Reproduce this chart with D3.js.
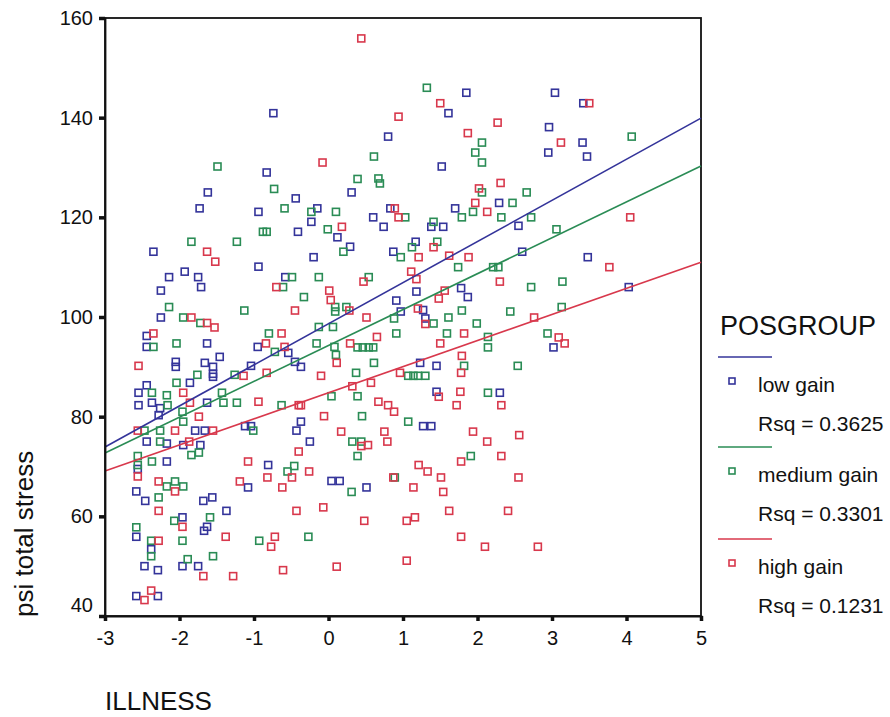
<!DOCTYPE html>
<html><head><meta charset="utf-8">
<script src="https://cdn.jsdelivr.net/npm/d3@7"></script>
<style>
body{margin:0;background:#fff;}
text{font-family:"Liberation Sans",Arial,sans-serif;fill:#111;}
</style></head>
<body><svg id="chart" width="890" height="717"></svg>
<script>
// ---- data ----
const groups = ["low gain", "medium gain", "high gain"];
const rsq = ["0.3625", "0.3301", "0.1231"];
const colors = ["#34349a", "#2a8c55", "#d8384c"];
const xTicks = [-3, -2, -1, 0, 1, 2, 3, 4, 5];
const yTicks = [40, 60, 80, 100, 120, 140, 160];
// fitted line values at x=-3 and x=5 for each group
const fitAtMin = [73.9, 72.7, 69.1];
const fitAtMax = [139.9, 130.3, 111.0];

const lowGain = [
[-0.74,140.9],[-0.83,129.0],[-1.62,125.0],[-0.44,123.8],[-1.73,121.8],[-0.94,121.1],
[1.85,145.0],[1.61,140.9],[0.80,136.2],[1.52,130.2],[0.31,125.0],[2.29,122.9],[-0.15,121.8],[-0.23,119.1],[0.60,120.0],[0.83,121.8],[0.74,118.1],[1.70,121.8],[1.38,118.1],[1.54,118.1],
[3.04,145.0],[3.42,142.9],[2.96,138.1],[3.41,135.0],[2.95,133.0],[3.47,132.2],[2.55,118.3],
[-0.41,117.1],[-2.35,113.1],[-0.94,110.1],[-1.93,109.1],[-2.14,108.0],[-1.75,108.0],[-1.71,106.0],[-2.25,105.3],[-0.58,108.0],[-2.25,99.9],[-2.44,96.2],[-2.44,94.0],[-1.63,94.7],[-0.95,94.0],[-0.54,92.8],[-0.45,91.0],[-0.37,90.0],[-2.05,91.0],[-2.05,90.0],[-1.66,90.8],[-1.55,90.0],[-1.46,92.0],[-1.55,88.6],[-1.55,88.0],[-1.86,86.8],[-1.04,90.2],[-2.55,84.8],[-2.44,86.3],[-2.55,82.3],[-2.37,82.8],[-2.26,81.7],[-2.28,80.3],[-1.63,82.8],[-1.79,77.2],[-1.66,77.2],[-1.12,78.1],[-1.04,78.1],[-0.43,77.2],[-0.37,79.0],
[0.12,116.0],[0.29,114.1],[-0.20,112.0],[0.87,113.1],[1.17,115.1],[1.18,105.1],[1.78,105.8],[1.87,104.0],[0.91,103.3],[0.97,101.1],[1.27,101.4],[1.30,99.7],[1.23,90.8],[1.45,90.2],[1.45,85.0],[2.30,84.8],[1.27,78.1],[1.38,78.1],
[2.60,113.1],[3.48,112.0],[4.03,106.0],[3.02,93.9],
[-2.44,75.0],[-2.17,74.6],[-1.95,74.3],[-1.72,74.3],[-2.17,71.0],[-2.56,69.5],[-2.58,65.0],[-2.46,63.1],[-1.68,63.1],[-1.56,63.8],[-1.37,61.1],[-1.96,59.8],[-1.63,57.9],[-1.67,57.1],[-2.58,55.9],[-2.38,53.4],[-2.47,50.0],[-2.29,49.2],[-1.96,50.0],[-1.75,50.0],[-2.58,44.0],[-2.29,44.0],[-0.81,70.3],[-1.08,65.8],
[-0.25,75.0],[0.04,67.1],[0.15,67.1],[0.51,65.8]
];
const mediumGain = [
[-1.49,130.2],[-0.73,125.7],[-0.59,121.8],
[1.32,146.0],[2.06,135.0],[1.97,133.0],[2.06,131.0],[0.61,132.2],[0.39,127.7],[0.67,127.8],[0.69,126.8],[2.06,125.0],[-0.23,121.1],[0.10,121.1],[1.03,120.0],[-0.01,117.6],[1.79,120.0],[1.94,121.1],[2.32,120.0],[1.41,119.1],
[4.07,136.2],[2.66,125.0],[2.47,122.9],[2.72,120.0],[3.06,117.6],
[-0.88,117.1],[-0.83,117.1],[-1.84,115.1],[-1.23,115.1],[-0.49,108.0],[-0.61,106.0],[-0.33,104.0],[-2.14,102.0],[-1.13,101.3],[-1.95,99.9],[-1.72,98.8],[-2.35,94.0],[-2.04,94.7],[-0.80,96.7],[-0.72,93.0],[-2.04,86.8],[-1.76,88.4],[-1.26,88.4],[-2.37,84.8],[-2.17,84.3],[-2.16,82.3],[-1.43,84.8],[-1.41,82.8],[-1.23,82.8],[-0.63,82.3],[-1.96,81.0],[-1.95,79.0],[-2.47,77.2],[-2.26,77.2],[-1.01,77.2],
[0.20,113.1],[-0.13,108.0],[0.09,102.0],[0.09,101.1],[0.24,102.0],[-0.13,98.0],[0.06,98.0],[0.54,108.0],[0.97,112.0],[1.12,114.0],[1.46,115.1],[1.74,110.0],[2.21,110.0],[2.28,110.0],[0.88,99.7],[1.41,98.7],[1.61,99.9],[1.79,101.3],[1.99,98.7],[0.91,96.7],[1.59,96.7],[2.14,96.0],[2.14,93.9],[-0.16,94.7],[0.08,94.0],[0.10,92.4],[0.39,93.9],[0.46,93.9],[0.54,93.9],[0.60,93.9],[1.82,90.2],[0.61,90.8],[0.37,88.8],[1.07,88.2],[1.14,88.2],[1.20,88.2],[1.30,88.2],[0.04,84.1],[0.39,84.1],[2.14,84.8],[0.45,80.1],[1.07,79.0],
[2.72,106.0],[3.14,107.1],[2.44,101.1],[3.13,102.0],[2.94,96.7],[2.54,90.2],
[-2.26,75.0],[-1.84,72.3],[-1.74,72.8],[-2.56,72.1],[-2.37,71.0],[-2.56,70.3],[-2.06,67.0],[-2.17,66.0],[-1.95,66.0],[-2.28,63.8],[-2.07,59.1],[-1.59,59.8],[-2.58,57.8],[-2.38,55.1],[-1.96,55.1],[-2.38,52.0],[-0.93,55.1],[-0.27,55.9],[-1.55,52.0],[-1.89,51.4],[-0.55,69.0],[-0.46,70.1],
[0.32,75.0],[0.44,75.0],[0.39,72.1],[0.31,64.9],[0.89,67.8],[1.91,72.1]
];
const highGain = [
[0.44,155.9],[1.50,142.9],[0.94,140.2],[2.27,139.0],[1.87,136.9],[-0.08,131.0],[2.02,125.8],[2.31,126.9],[1.97,122.9],[0.94,120.0],[0.89,121.8],[0.18,118.1],[2.13,121.1],
[3.50,142.9],[3.12,135.0],[4.05,120.0],
[-1.63,113.1],[-1.52,111.1],[-0.70,106.0],[-0.45,101.3],[-1.84,99.9],[-1.63,98.8],[-1.53,97.9],[-2.35,96.7],[-0.63,96.7],[-0.84,94.7],[-0.59,94.0],[-2.55,90.2],[-1.14,88.2],[-0.83,88.8],[-1.95,84.8],[-1.86,82.8],[-0.94,83.0],[-0.40,82.3],[-1.74,80.0],[-2.56,77.2],[-2.06,77.2],[-1.55,77.2],
[0.01,105.3],[0.03,103.4],[0.28,101.3],[0.51,99.9],[0.47,107.1],[1.21,112.0],[1.41,114.0],[1.62,112.3],[1.88,112.0],[2.30,107.1],[1.11,109.1],[1.18,107.6],[1.56,105.3],[1.48,103.7],[1.20,101.7],[1.30,98.6],[1.82,96.7],[0.65,96.0],[0.29,94.7],[1.50,94.7],[1.79,92.2],[0.11,90.8],[-0.10,88.2],[0.96,88.8],[1.78,88.8],[0.32,86.1],[0.57,86.8],[-0.37,82.3],[1.48,84.0],[1.77,85.0],[0.67,83.0],[0.80,82.3],[0.88,81.0],[1.72,82.3],[2.32,82.3],[-0.06,80.1],[0.17,77.0],[0.75,77.0],[1.94,77.0],
[3.77,110.0],[2.76,99.9],[3.09,95.9],[3.17,94.7],[2.56,76.3],
[-1.87,75.0],[-2.56,68.0],[-2.28,67.0],[-2.06,65.0],[-2.28,61.1],[-1.96,57.9],[-2.28,55.1],[-1.38,55.9],[-0.72,55.9],[-0.77,53.9],[-1.68,48.0],[-1.28,48.0],[-0.61,49.2],[-2.47,43.2],[-2.38,45.1],[-1.08,71.0],[-0.82,67.8],[-1.19,67.0],[-0.49,67.8],[-0.62,65.8],[-0.40,73.0],[-0.43,61.1],
[0.44,74.1],[0.53,74.3],[0.79,75.0],[-0.26,69.0],[-0.07,61.8],[0.48,59.1],[0.11,49.9],[0.87,67.8],[1.14,65.8],[1.21,70.3],[1.33,69.0],[1.51,67.8],[1.54,64.9],[1.05,59.1],[1.16,59.8],[1.62,61.1],[1.05,51.1],[1.78,55.9],[2.10,53.9],[1.78,71.0],[2.13,75.0],[2.32,72.1],[2.41,61.1],[2.55,67.8],[2.81,53.9]
];
const seriesData = [lowGain, mediumGain, highGain];

// ---- drawing ----
const svg = d3.select("#chart");
const plotLeft = 105, plotRight = 701, plotTop = 18, plotBottom = 616;
const x = d3.scaleLinear().domain([-3, 5]).range([plotLeft, plotRight]);
const y = d3.scaleLinear().domain([40, 160]).range([plotBottom, plotTop]);

// frame
svg.append("rect").attr("x", plotLeft).attr("y", plotTop).attr("width", plotRight - plotLeft).attr("height", plotBottom - plotTop)
  .attr("fill", "none").attr("stroke", "#111").attr("stroke-width", 1.8);

// points
seriesData.forEach((pts, i) => {
  svg.append("g").selectAll("rect").data(pts).join("rect")
    .attr("x", d => x(d[0]) - 3.5).attr("y", d => y(d[1]) - 3.5)
    .attr("width", 7).attr("height", 7)
    .attr("fill", "none").attr("stroke", colors[i]).attr("stroke-width", 1.6);
});

// fit lines
groups.forEach((g, i) => {
  svg.append("line")
    .attr("x1", x(-3)).attr("y1", y(fitAtMin[i]))
    .attr("x2", x(5)).attr("y2", y(fitAtMax[i]))
    .attr("stroke", colors[i]).attr("stroke-width", 1.6);
});

// axes
const yAxis = svg.append("g").attr("transform", `translate(${plotLeft},0)`)
  .call(d3.axisLeft(y).tickValues(yTicks).tickSize(6).tickPadding(6).tickFormat(d3.format("d")));
const xAxis = svg.append("g").attr("transform", `translate(0,${plotBottom})`)
  .call(d3.axisBottom(x).tickValues(xTicks).tickSize(5).tickPadding(10).tickFormat(d => d < 0 ? "-" + Math.abs(d) : d));
[yAxis, xAxis].forEach(a => {
  a.select(".domain").attr("stroke", "#111").attr("stroke-width", 1.8);
  a.selectAll(".tick line").attr("stroke", "#111").attr("stroke-width", 3.5);
  a.selectAll(".tick text").style("font-size", "20px").style("font-family", "'Liberation Sans',Arial,sans-serif").attr("fill", "#111");
});
yAxis.selectAll(".tick text").filter(d => d === 40).attr("dy", "-0.25em");

// axis titles
svg.append("text").attr("transform", "translate(33,617) rotate(-90)")
  .attr("text-anchor", "start").style("font-size", "26px").text("psi total stress");
svg.append("text").attr("x", 105).attr("y", 710).style("font-size", "26px").text("ILLNESS");

// legend
svg.append("text").attr("x", 720).attr("y", 335).style("font-size", "27px").text("POSGROUP");
const legTop = [357, 447, 539];
groups.forEach((g, i) => {
  const ly = legTop[i];
  svg.append("line").attr("x1", 718).attr("x2", 772).attr("y1", ly).attr("y2", ly)
    .attr("stroke", colors[i]).attr("stroke-width", 1.6);
  svg.append("rect").attr("x", 729).attr("y", ly + 21).attr("width", 6).attr("height", 6)
    .attr("fill", "none").attr("stroke", colors[i]).attr("stroke-width", 1.6);
  svg.append("text").attr("x", 758).attr("y", ly + 35).style("font-size", "21px").text(g);
  svg.append("text").attr("x", 758).attr("y", ly + 74).style("font-size", "21px").text("Rsq = " + rsq[i]);
});
</script></body></html>
